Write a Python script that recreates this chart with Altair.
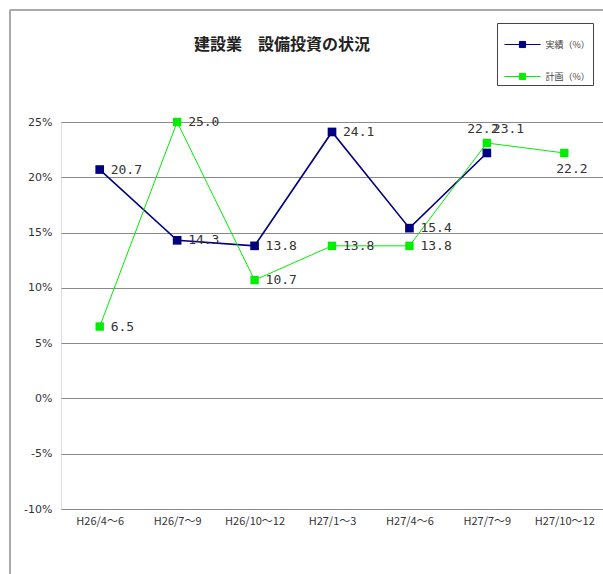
import altair as alt
import pandas as pd

categories = ["H26/4～6", "H26/7～9", "H26/10～12", "H27/1～3", "H27/4～6", "H27/7～9", "H27/10～12"]
actual = [20.7, 14.3, 13.8, 24.1, 15.4, 22.2, None]
plan = [6.5, 25.0, 10.7, 13.8, 13.8, 23.1, 22.2]
series_names = ["実績（%）", "計画（%）"]
series_colors = ["#000080", "#00EE00"]
y_ticks = [-10, -5, 0, 5, 10, 15, 20, 25]

rows = []
for i, c in enumerate(categories):
    if actual[i] is not None:
        rows.append({"period": c, "series": series_names[0], "value": actual[i], "idx": i})
    if plan[i] is not None:
        rows.append({"period": c, "series": series_names[1], "value": plan[i], "idx": i})
df = pd.DataFrame(rows)

x_enc = alt.X("period:N", sort=categories, scale=alt.Scale(paddingInner=0, paddingOuter=0),
              axis=alt.Axis(title=None, labelAngle=0, ticks=False, domain=False, grid=False,
                            labelFont="Noto Sans CJK JP", labelFontSize=11, labelColor="#333",
                            labelPadding=6))
y_enc = alt.Y("value:Q", scale=alt.Scale(domain=[-10, 25], nice=False),
              axis=alt.Axis(title=None, values=y_ticks, labelExpr="datum.value + '%'",
                            ticks=False, domain=False, grid=True, gridColor="#8a8a8a",
                            gridWidth=1, labelFont="DejaVu Sans", labelFontSize=11,
                            labelColor="#333", labelPadding=9))
color_enc = alt.Color("series:N", scale=alt.Scale(domain=series_names, range=series_colors),
                      legend=alt.Legend(title=None, orient="none", legendX=436, legendY=-99,
                                        strokeColor="#444", fillColor="white", padding=2.5,
                                        rowPadding=7, labelFontSize=9, labelColor="#444",
                                        labelFont="Noto Sans CJK JP", labelOffset=4,
                                        symbolOffset=4,
                                        symbolType="M-1,0H1M-0.17,-0.17H0.17V0.17H-0.17Z",
                                        symbolSize=1300, symbolStrokeWidth=1, symbolOpacity=1))
order_sort = alt.Order("idx:Q")

base = alt.Chart(df)
navy = base.transform_filter(alt.datum.series == series_names[0])
green = base.transform_filter(alt.datum.series == series_names[1])

line_navy = navy.mark_line(strokeWidth=1.6).encode(x=x_enc, y=y_enc, color=color_enc, order=order_sort)
pt_navy = navy.mark_point(shape="square", filled=True, size=75, opacity=1).encode(x=x_enc, y=y_enc, color=color_enc)
line_green = green.mark_line(strokeWidth=1).encode(x=x_enc, y=y_enc, color=color_enc, order=order_sort)
pt_green = green.mark_point(shape="square", filled=True, size=70, opacity=1).encode(x=x_enc, y=y_enc, color=color_enc)

label_font = dict(font="DejaVu Sans Mono", fontSize=13, color="#333")
text_enc = alt.Text("value:Q", format=".1f")

lab_navy_right = navy.transform_filter(alt.datum.idx != 5).mark_text(align="left", baseline="middle", dx=11, **label_font).encode(x=x_enc, y=y_enc, text=text_enc)
lab_navy_above = navy.transform_filter(alt.datum.idx == 5).mark_text(align="center", baseline="middle", dx=-4, dy=-24, **label_font).encode(x=x_enc, y=y_enc, text=text_enc)
lab_green_right = green.transform_filter(alt.datum.idx < 5).mark_text(align="left", baseline="middle", dx=11, **label_font).encode(x=x_enc, y=y_enc, text=text_enc)
lab_green_above = green.transform_filter(alt.datum.idx == 5).mark_text(align="left", baseline="middle", dx=6, dy=-14, **label_font).encode(x=x_enc, y=y_enc, text=text_enc)
lab_green_below = green.transform_filter(alt.datum.idx == 6).mark_text(align="left", baseline="middle", dx=-8, dy=16, **label_font).encode(x=x_enc, y=y_enc, text=text_enc)

frame_v = alt.Chart(df).mark_rule(color="#aaaaaa", strokeWidth=1.5).encode(
    x=alt.value(-51), y=alt.value(-112), y2=alt.value(452))
frame_h = alt.Chart(df).mark_rule(color="#aaaaaa", strokeWidth=1.5).encode(
    x=alt.value(-51), x2=alt.value(545), y=alt.value(-112))

chart = alt.layer(
    frame_v, frame_h,
    line_navy, line_green, pt_navy, pt_green,
    lab_navy_right, lab_navy_above, lab_green_right, lab_green_above, lab_green_below,
).properties(
    width=542, height=387,
    autosize=alt.AutoSizeParams(type="none"),
    padding={"left": 61, "top": 122, "right": 0, "bottom": 65},
    title=alt.TitleParams("建設業　設備投資の状況", font="Noto Sans CJK JP", fontSize=16,
                          fontWeight="bold", color="#222", anchor="middle", dx=-50, offset=-44),
).configure_view(stroke="#555", strokeWidth=1.5).configure(background="white")

chart.save("out.html", embed_options={"renderer": "svg", "actions": False})
